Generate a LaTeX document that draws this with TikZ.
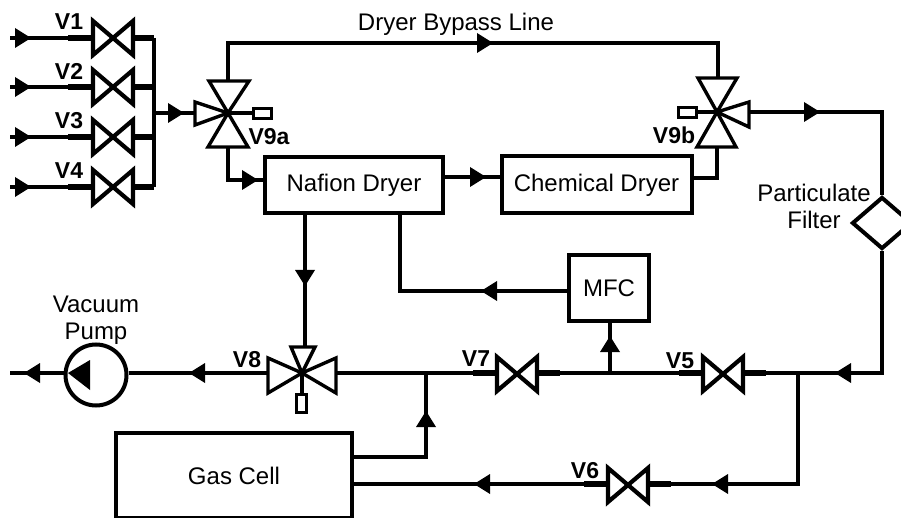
\documentclass[tikz,border=0pt]{standalone}
\usepackage{fontspec}
\setmainfont{Liberation Sans}
\usetikzlibrary{shapes.geometric}
\tikzset{
  pipe/.style={line width=3.8pt,line cap=butt,line join=miter},
  tick/.style={line width=5.5pt},
  valveshape/.style={draw=black,line width=4.2pt,line join=miter,fill=white},
  triv/.style={draw=black,line width=3.4pt,line join=miter,fill=white},
  blockbox/.style={draw=black,line width=4pt,fill=white,rectangle,inner sep=0pt,font=\fontsize{24}{26}\selectfont},
  vlabel/.style={font=\bfseries\fontsize{23}{23}\selectfont,inner sep=0pt},
  plain/.style={font=\fontsize{24}{27}\selectfont,inner sep=0pt,align=center},
  actbox/.style={draw=black,line width=3pt,fill=white,inner sep=0pt},
  flow/.style={fill=black,draw=none}
}
\newcommand{\twoway}[2]{%
  \coordinate (#2) at (#1);
  \coordinate (#2l) at ([shift={(-22,0)}]#2);
  \coordinate (#2r) at ([shift={(22,0)}]#2);
  \draw[valveshape,shift={(#1)}] (-20,-17) -- (20,17) -- (20,-17) -- (-20,17) -- cycle;
}
\newcommand{\flowR}[1]{\fill[flow,shift={(#1)}] (-8,-10) -- (8,0) -- (-8,10) -- cycle;}
\newcommand{\flowL}[1]{\fill[flow,shift={(#1)}] (8,-10) -- (-8,0) -- (8,10) -- cycle;}
\newcommand{\flowU}[1]{\fill[flow,shift={(#1)}] (-10,8) -- (0,-8) -- (10,8) -- cycle;}
\newcommand{\flowD}[1]{\fill[flow,shift={(#1)}] (-10,-8) -- (0,8) -- (10,-8) -- cycle;}
\begin{document}
\begin{tikzpicture}[x=1pt,y=-1pt]
\useasboundingbox (0,0) rectangle (901,518);
\clip (0,0) rectangle (901,518);
\fill[white] (0,0) rectangle (901,518);
\coordinate (a) at (228,113);
\coordinate (b) at (717,112);
\coordinate (c) at (302,373);
% blocks
\node[blockbox,minimum width=178pt,minimum height=56pt] (naf) at (354,185) {\raisebox{-2pt}{Nafion Dryer}};
\node[blockbox,minimum width=190pt,minimum height=57pt] (chem) at (596.5,185) {\raisebox{-2pt}{Chemical Dryer}};
\node[blockbox,minimum width=80pt,minimum height=66pt] (mfc) at (609,288) {MFC};
\node[blockbox,minimum width=236pt,minimum height=85pt] (gas) at (234,475.5) {\raisebox{-1pt}{Gas Cell}};
% inlet valves
\foreach \n/\yy in {1/38,2/87,3/137,4/187}{
  \coordinate (in\n) at (10,\yy);
  \coordinate (st\n) at (68,\yy);
  \coordinate (bus\n) at (154,\yy);
  \draw[pipe] (in\n) -- (st\n);
  \draw[tick] (st\n) -- (91,\yy);
  \draw[tick] (135,\yy) -- (bus\n);
  \twoway{113,\yy}{v\n}
  \flowR{23,\yy}
}
\coordinate (busm) at (154,113);
\draw[pipe,line cap=square] (bus1) -- (bus4);
\node[vlabel] (l1) at (69,22) {V1};
\node[vlabel] (l2) at (69,71) {V2};
\node[vlabel] (l3) at (69,121) {V3};
\node[vlabel] (l4) at (69,171) {V4};
% V9a
\draw[pipe] (busm) -- (195,113);
\flowR{176,113}
\draw[pipe] (a) -- (252,113);
\draw[triv] (195,102) -- (a) -- (195,125) -- cycle;
\draw[triv] (209,81) -- (249,81) -- (a) -- cycle;
\draw[triv] (208,147) -- (248,147) -- (a) -- cycle;
\node[actbox,minimum width=18pt,minimum height=10pt] (boxa) at (262,113.5) {};
\node[vlabel] (l9a) at (269,137) {V9a};
% V9b
\draw[pipe] (b) -- (697,112);
\draw[triv] (749,102) -- (b) -- (749,127) -- cycle;
\draw[triv] (698,78) -- (737,78) -- (b) -- cycle;
\draw[triv] (697,147) -- (736,147) -- (b) -- cycle;
\node[actbox,minimum width=18pt,minimum height=10pt] (boxb) at (687,113) {};
\node[vlabel] (l9b) at (674,135) {V9b};
% bypass
\draw[pipe] (228,81) -- (228,43) -- (718,43) -- (718,78);
\flowR{485,43}
\node[plain] (bypass) at (456,24) {Dryer Bypass Line};
% dryer links
\draw[pipe] (228,147) -- (228,180) -- (naf.west |- 0,180);
\flowR{250,180}
\draw[pipe] (naf.east |- 0,177) -- (chem.west |- 0,177);
\flowR{478,177}
\draw[pipe] (chem.east |- 0,178) -- (717,178) -- (717,147);
% filter
\node[draw=black,line width=4pt,line join=miter,fill=white,diamond,shape aspect=1.15,inner sep=0pt,minimum width=60pt,minimum height=52pt] (filt) at (882,223) {};
\draw[pipe] (749,112) -- (filt.north |- 0,112) -- (filt.north);
\flowR{812,112}
\node[plain,fill=none] (ftext) at (814,206) {Particulate\\Filter};
% filter to junction
\draw[pipe] (filt.south) -- (filt.south |- 0,373) -- (766,373);
\flowL{843,373}
% V5
\draw[tick] (679,373) -- (701,373);
\draw[tick] (745,373) -- (766,373);
\twoway{723,374}{v5}
\node[vlabel] (l5) at (680,361) {V5};
% junction to V6
\draw[pipe] (798,373) -- (798,484) -- (671,484);
\flowL{720,484}
\draw[tick] (584,484) -- (606,484);
\draw[tick] (650,484) -- (671,484);
\twoway{628,485}{v6}
\node[vlabel] (l6) at (585,471) {V6};
\draw[pipe] (584,484) -- (gas.east |- 0,484);
\flowL{482,484}
% V7 line
\draw[pipe] (560,373) -- (679,373);
\draw[tick] (473,373) -- (495,373);
\draw[tick] (539,373) -- (560,373);
\twoway{517,374}{v7}
\node[vlabel] (l7) at (476,359) {V7};
\draw[pipe] (610,373) -- (mfc.south -| 610,0);
\flowU{610,344}
% MFC to Nafion
\draw[pipe] (mfc.west |- 0,291) -- (400,291) -- (naf.south -| 400,0);
\flowL{489,291}
% Nafion to V8
\draw[pipe] (naf.south -| 305,0) -- (305,347);
\flowD{305,278}
% V8
\draw[pipe] (336,373) -- (473,373);
\draw[pipe] (gas.east |- 0,457) -- (426,457) -- (426,373);
\flowU{426,419}
\draw[pipe] (c) -- (302,394);
\draw[triv] (268,358) -- (c) -- (268,393) -- cycle;
\draw[triv] (336,358) -- (c) -- (336,393) -- cycle;
\draw[triv] (291,347) -- (315,347) -- (c) -- cycle;
\node[actbox,minimum width=10pt,minimum height=18pt] (boxc) at (301.5,403.5) {};
\node[vlabel] (l8) at (247,360) {V8};
% pump
\node[draw=black,line width=4pt,fill=white,circle,inner sep=0pt,minimum size=61pt] (pump) at (96,375) {};
\draw[pipe] (268,373) -- (pump.east |- 0,373);
\flowL{197,373}
\draw[pipe] (pump.west |- 0,373) -- (10,373);
\flowL{32,373}
\fill[flow] (68,373) -- (90,360) -- (90,390) -- cycle;
\node[plain] (ptext) at (96,320) {Vacuum\\Pump};
\end{tikzpicture}
\end{document}
